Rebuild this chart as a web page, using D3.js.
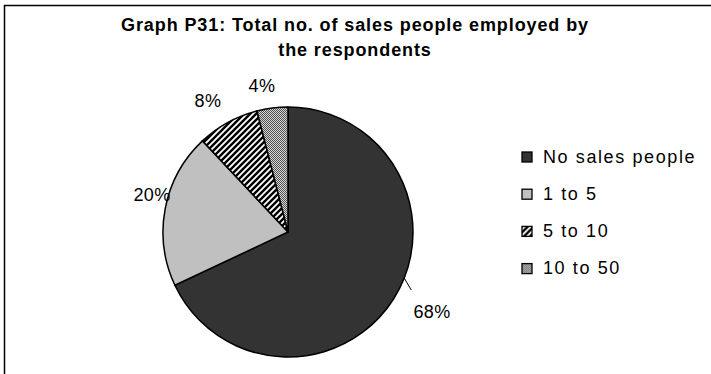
<!DOCTYPE html>
<html><head><meta charset="utf-8">
<script src="https://cdn.jsdelivr.net/npm/d3@7"></script>
<style>body{margin:0;background:#fff}svg{display:block}</style>
</head><body>
<script>
const titleLines = ["Graph P31: Total no. of sales people employed by", "the respondents"];
const categories = ["No sales people", "1 to 5", "5 to 10", "10 to 50"];
const values = [68, 20, 8, 4];
const labels = ["68%", "20%", "8%", "4%"];

const W = 711, H = 374;
const FONT = "Liberation Sans, Arial, sans-serif";
const svg = d3.select("body").append("svg").attr("width", W).attr("height", H);
const defs = svg.append("defs");
const hatch = defs.append("pattern").attr("id","hatch").attr("patternUnits","userSpaceOnUse")
  .attr("width",6).attr("height",6);
hatch.append("rect").attr("width",6).attr("height",6).attr("fill","#fff");
hatch.append("path").attr("d","M-1,1 l2,-2 M0,6 l6,-6 M5,7 l2,-2").attr("stroke","#000").attr("stroke-width",2.4);
const dots = defs.append("pattern").attr("id","dots").attr("patternUnits","userSpaceOnUse")
  .attr("width",2).attr("height",2);
dots.append("rect").attr("width",2).attr("height",2).attr("fill","#d8d8d8");
dots.append("rect").attr("width",1).attr("height",1).attr("fill","#505050");
dots.append("rect").attr("x",1).attr("y",1).attr("width",1).attr("height",1).attr("fill","#505050");

const fills = ["#333333", "#c0c0c0", "url(#hatch)", "url(#dots)"];

svg.append("rect").attr("x",4.5).attr("y",5.5).attr("width",W).attr("height",H)
  .attr("fill","#fff").attr("stroke","#000").attr("stroke-width",1.5);

svg.append("g").selectAll("text").data(titleLines).join("text")
  .attr("x", 355).attr("y",(d,i)=>31+i*25).attr("text-anchor","middle")
  .attr("font-family",FONT).attr("font-weight","bold")
  .attr("font-size",18).attr("letter-spacing",0.9).text(d=>d);

const cx = 288, cy = 232, r = 125;
const pie = d3.pie().sort(null).value(d=>d)(values);
const arc = d3.arc().innerRadius(0).outerRadius(r);
const g = svg.append("g").attr("transform",`translate(${cx},${cy})`);
g.selectAll("path").data(pie).join("path").attr("d",arc)
  .attr("fill",(d,i)=>fills[i]).attr("stroke","#000").attr("stroke-width",1.5);

// labels
const labelPos = [[432,318],[152,201],[208,107],[262,92]];
svg.append("g").selectAll("text").data(labels).join("text")
  .attr("x",(d,i)=>labelPos[i][0]).attr("y",(d,i)=>labelPos[i][1]).attr("text-anchor","middle")
  .attr("font-family",FONT).attr("font-size",18).attr("letter-spacing",0.4).text(d=>d);
// leader line for 68%
const a68 = Math.PI*0.62;
const sx = cx + Math.sin(a68)*r, sy = cy - Math.cos(a68)*r;
svg.append("path").attr("d",`M${sx},${sy} L${sx+7},${sy+12}`)
  .attr("fill","none").attr("stroke","#000").attr("stroke-width",1);

// legend
const lg = svg.append("g").selectAll("g").data(categories).join("g")
  .attr("transform",(d,i)=>`translate(522,${152+i*37.2})`);
lg.append("rect").attr("width",10).attr("height",10).attr("fill",(d,i)=>fills[i])
  .attr("stroke","#000").attr("stroke-width",1.3);
lg.append("text").attr("x",21).attr("y",10.5).attr("font-family",FONT)
  .attr("font-size",18).attr("letter-spacing",1.6).text(d=>d);
</script>
</body></html>
